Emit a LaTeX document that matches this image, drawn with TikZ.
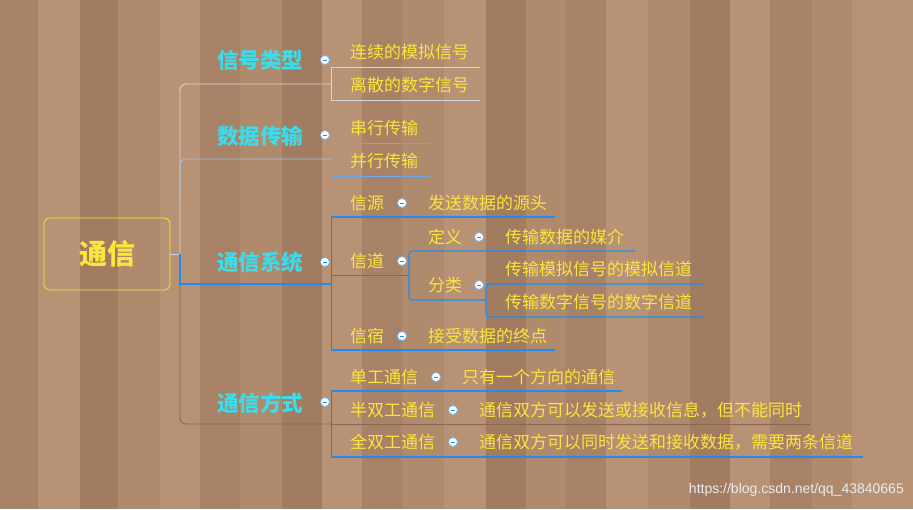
\documentclass[tikz,border=0pt]{standalone}
\usepackage{fontspec}
\newfontfamily\cjk{Noto Sans CJK SC}
\definecolor{wood1}{RGB}{176,138,108}
\definecolor{wood2}{RGB}{168,130,102}
\definecolor{wood3}{RGB}{184,146,116}
\definecolor{wood4}{RGB}{162,124,96}
\definecolor{ytxt}{RGB}{250,230,60}
\definecolor{ctxt}{RGB}{60,220,235}
\definecolor{lblue}{RGB}{30,140,240}
\definecolor{lgray}{RGB}{215,215,225}
\definecolor{lbrown}{RGB}{140,100,80}
\begin{document}
\begin{tikzpicture}[x=1pt,y=-1pt,
  item/.style={font=\cjk\fontsize{17}{19}\selectfont,text=ytxt,anchor=west,inner sep=0pt},
  mainb/.style={font=\cjk\bfseries\fontsize{21.5}{24}\selectfont,text=ctxt,anchor=center,inner sep=0pt},
  fold/.style={circle,draw=lblue!60,fill=white,minimum size=9pt,inner sep=0pt,line width=0.8pt,
    path picture={\draw[lblue,line width=0.9pt] ([xshift=-2pt]path picture bounding box.center)--([xshift=2pt]path picture bounding box.center);}},
  ln/.style={line width=0.9pt},
  bl/.style={line width=1.3pt,lblue}]
\useasboundingbox (0,0) rectangle (913,509);
\fill[wood1] (0,0) rectangle (913,509);
\foreach \a/\b/\c in {0/38/wood2,38/80/wood3,80/118/wood4,118/160/wood1,160/200/wood3,200/240/wood2,240/282/wood1,282/322/wood4,322/362/wood3,362/402/wood2,402/444/wood1,444/486/wood3,486/526/wood4,526/566/wood1,566/606/wood2,606/648/wood3,648/690/wood1,690/730/wood4,730/770/wood3,770/812/wood2,812/852/wood1,852/913/wood3}{
  \fill[\c] (\a,0) rectangle (\b,509);
  \draw[black!30,opacity=0.3] (\b,0)--(\b,509);}
% root
\node[draw=ytxt,rounded corners=6pt,line width=0.8pt,minimum width=126pt,minimum height=72pt,
  font=\cjk\bfseries\fontsize{28}{30}\selectfont,text=ytxt] (root) at (107,254) {通信};
% spine
\coordinate (s) at (180,254);
\draw[ln,lgray] (root.east)--(s);
\draw[ln,lgray,rounded corners=6pt] (s)--(180,84)--(331,84);
\draw[ln,lgray!70!lblue,rounded corners=6pt] (180,200)--(180,159)--(331,159);
\draw[bl] (180,254)--(180,284)--(331,284);
\draw[ln,lbrown!80!lblue,rounded corners=6pt] (180,284)--(180,424)--(331,424);
% main branch labels
\node[mainb] (m1) at (260,60) {信号类型};
\node[mainb] (m2) at (260,136) {数据传输};
\node[mainb] (m3) at (260,262) {通信系统};
\node[mainb] (m4) at (260,403) {通信方式};
\node[fold] (f1) at (325,60) {};
\node[fold] (f2) at (325,135) {};
\node[fold] (f3) at (325,262) {};
\node[fold] (f4) at (325,402) {};
% 信号类型
\draw[ln,lgray] (480,67)--(331,67)--(331,100)--(480,100);
\node[item] (a1) at (350,52) {连续的模拟信号};
\node[item] (a2) at (350,85) {离散的数字信号};
% 数据传输
\draw[ln,lblue!60!lgray] (430,143)--(331,143)--(331,176)--(430,176);
\node[item] (b1) at (350,128) {串行传输};
\node[item] (b2) at (350,161) {并行传输};
% 通信系统
\draw[ln,lbrown] (331,217)--(331,350);
\draw[ln,lbrown] (331,275)--(408,275);
\draw[bl] (555,217)--(331,217);
\draw[bl] (331,350)--(555,350);
\node[item] (c1) at (350,203) {信源};
\node[fold] (fc1) at (402,203) {};
\node[item] (c1a) at (428,203) {发送数据的源头};
\node[item] (c2) at (350,261) {信道};
\node[fold] (fc2) at (402,261) {};
\node[item] (c3) at (350,336) {信宿};
\node[fold] (fc3) at (402,336) {};
\node[item] (c3a) at (428,336) {接受数据的终点};
\draw[bl,rounded corners=3pt] (635,251)--(409,251)--(409,300)--(486,300);
\node[item] (d1) at (428,237) {定义};
\node[fold] (fd1) at (479,237) {};
\node[item] (d1a) at (505,237) {传输数据的媒介};
\node[item] (d2) at (428,285) {分类};
\node[fold] (fd2) at (479,285) {};
\draw[bl,rounded corners=3pt] (703,284)--(486,284)--(486,317)--(703,317);
\node[item] (e1) at (505,269) {传输模拟信号的模拟信道};
\node[item] (e2) at (505,302) {传输数字信号的数字信道};
% 通信方式
\draw[ln,lbrown] (331,391)--(331,457);
\draw[ln,lbrown] (331,424)--(810,424);
\draw[bl] (622,391)--(331,391);
\draw[bl] (331,457)--(863,457);
\node[item] (g1) at (350,377) {单工通信};
\node[fold] (fg1) at (436,377) {};
\node[item] (g1a) at (462,377) {只有一个方向的通信};
\node[item] (g2) at (350,410) {半双工通信};
\node[fold] (fg2) at (453,410) {};
\node[item] (g2a) at (479,410) {通信双方可以发送或接收信息，但不能同时};
\node[item] (g3) at (350,442) {全双工通信};
\node[fold] (fg3) at (453,442) {};
\node[item] (g3a) at (479,442) {通信双方可以同时发送和接收数据，需要两条信道};
\node[font=\fontspec{Liberation Sans}\fontsize{14}{16}\selectfont,text=white!85!gray,anchor=east,inner sep=0pt] (wm) at (904,490) {https://blog.csdn.net/qq\_43840665};
\end{tikzpicture}
\end{document}
